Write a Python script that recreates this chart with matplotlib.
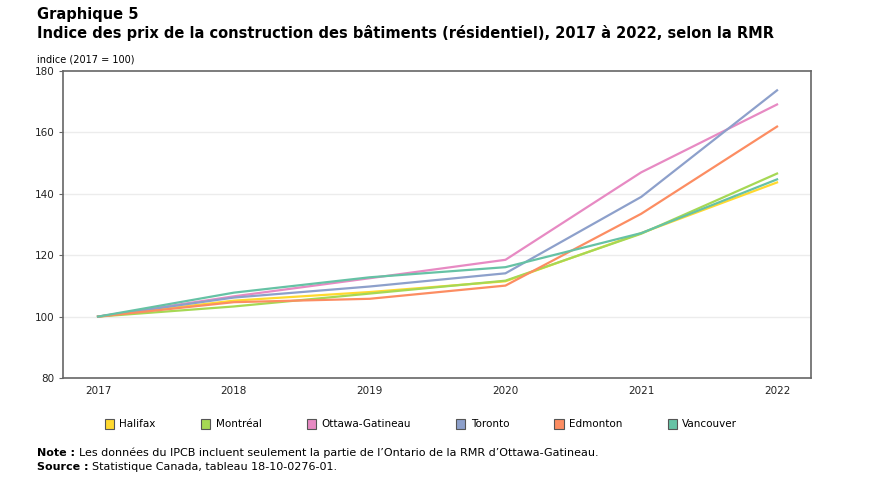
import matplotlib.pyplot as plt
from matplotlib.patches import Patch

years = [2017, 2018, 2019, 2020, 2021, 2022]
cities = ['Halifax', 'Montréal', 'Ottawa-Gatineau', 'Toronto', 'Edmonton', 'Vancouver']
halifax = [100, 105.2, 108.0, 111.5, 127.2, 143.7]
montreal = [100, 103.3, 107.5, 111.7, 127.0, 146.6]
ottawa = [100, 106.6, 112.5, 118.5, 147.0, 169.1]
toronto = [100, 106.2, 109.8, 114.1, 139.0, 173.7]
edmonton = [100, 104.7, 105.8, 110.1, 133.5, 161.9]
vancouver = [100, 107.8, 112.8, 116.1, 127.2, 144.7]
series = [halifax, montreal, ottawa, toronto, edmonton, vancouver]
colors = ['#ffd92f', '#a6d854', '#e78ac3', '#8da0cb', '#fc8d62', '#66c2a5']

plt.rcParams['font.family'] = ['DejaVu Sans']

fig = plt.figure(figsize=(8.79, 4.78), dpi=100)
ax = fig.add_axes([63 / 879, 1 - 378 / 478, (811 - 63) / 879, (378 - 71) / 478])

for vals, c in zip(series, colors):
    ax.plot(years, vals, color=c, lw=1.6)

ax.set_ylim(80, 180)
ax.set_xlim(2016.742, 2022.25)
ax.set_yticks([80, 100, 120, 140, 160, 180])
ax.set_xticks(years)
ax.tick_params(axis='both', labelsize=7.5, colors='#222222', length=0, pad=6)
ax.tick_params(axis='y', length=3, pad=3, color='#666666')
for y in [100, 120, 140, 160]:
    ax.axhline(y, color='#ececec', lw=1, zorder=0)
for s in ax.spines.values():
    s.set_color('#666666')
    s.set_linewidth(1.2)

fig.text(37 / 879, 1 - 14 / 478, 'Graphique 5', fontsize=10.5, fontweight='bold', va='center')
fig.text(37 / 879, 1 - 33 / 478,
         'Indice des prix de la construction des bâtiments (résidentiel), 2017 à 2022, selon la RMR',
         fontsize=10.5, fontweight='bold', va='center')
fig.text(37 / 879, 1 - 60 / 478, 'indice (2017 = 100)', fontsize=7, va='center')

handles = [Patch(facecolor=c, edgecolor='#555555', lw=0.8) for c in colors]
fig.legend(handles, cities, loc='center', bbox_to_anchor=(421 / 879, 1 - 424 / 478), ncol=6,
           frameon=False, fontsize=7.5, handlelength=0.9, handleheight=1.1,
           handletextpad=0.5, columnspacing=4.35)

fig.text(37 / 879, 1 - 453 / 478, 'Note :', fontsize=8, fontweight='bold', va='center')
fig.text(79 / 879, 1 - 453 / 478,
         "Les données du IPCB incluent seulement la partie de l’Ontario de la RMR d’Ottawa-Gatineau.",
         fontsize=8, va='center')
fig.text(37 / 879, 1 - 467 / 478, 'Source :', fontsize=8, fontweight='bold', va='center')
fig.text(92 / 879, 1 - 467 / 478, 'Statistique Canada, tableau 18-10-0276-01.', fontsize=8, va='center')

fig.savefig('out.png', dpi=100)
